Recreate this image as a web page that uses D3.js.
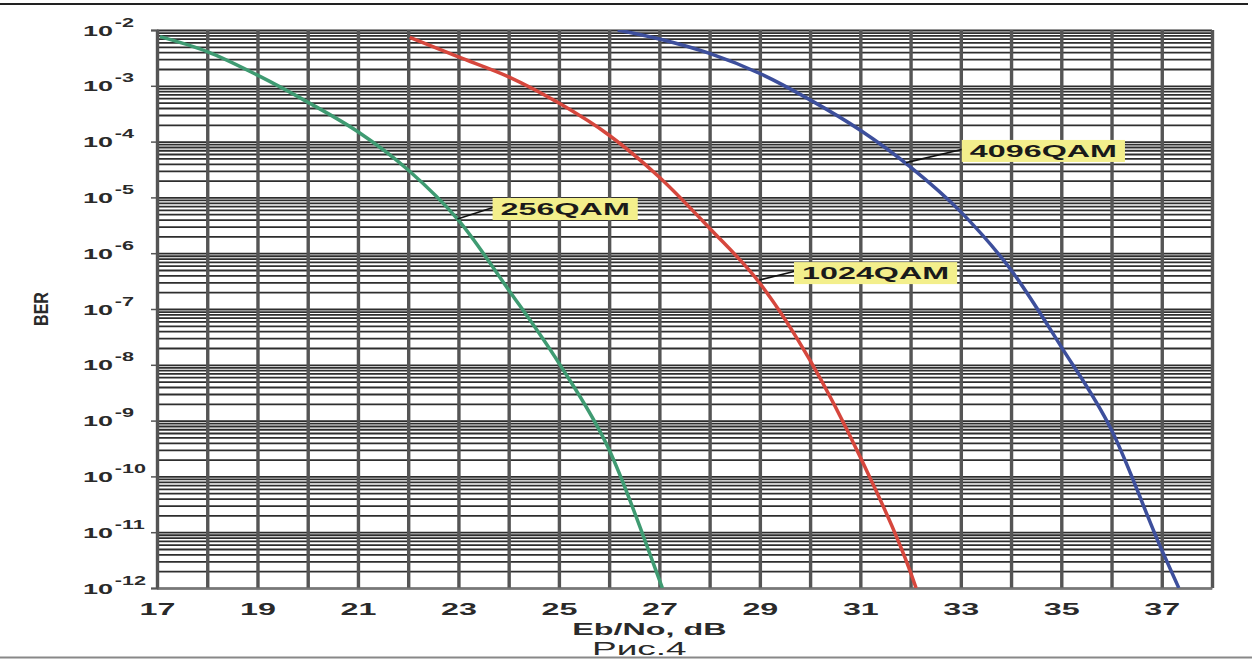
<!DOCTYPE html>
<html>
<head>
<meta charset="utf-8">
<script src="https://cdn.jsdelivr.net/npm/d3@7"></script>
<style>
  body { margin: 0; background: #fff; }
  svg { display: block; font-family: "Liberation Sans", Arial, sans-serif; }
</style>
</head>
<body>
<svg id="chart"></svg>
<script>
// Curves: Eb/No (dB) and BER
const ebno256 = [17.06, 18, 19, 20, 21, 22, 23, 24, 25, 26, 27, 27.06];
const ber256 = [7.6e-3, 4.1e-3, 1.55e-3, 5.1e-4, 1.5e-4, 3.1e-5, 3.9e-6, 2.2e-7, 1.07e-8, 3.0e-10, 1.4e-12, 1e-12];

const ebno1024 = [22.03, 23, 24, 25, 26, 27, 28, 29, 30, 31, 32, 32.11];
const ber1024 = [7.4e-3, 3.3e-3, 1.45e-3, 4.9e-4, 1.3e-4, 2.3e-5, 2.8e-6, 2.9e-7, 1.2e-8, 2.2e-10, 1.9e-12, 1e-12];

const ebno4096 = [26.17, 27, 28, 29, 30, 31, 32, 33, 34, 35, 36, 37, 37.34];
const ber4096 = [1e-2, 6.9e-3, 3.8e-3, 1.66e-3, 5.6e-4, 1.6e-4, 3.5e-5, 5.5e-6, 5e-7, 2.1e-8, 6.8e-10, 4.8e-12, 1e-12];

const seriesNames = ["256QAM", "1024QAM", "4096QAM"];
const seriesColors = ["#3f9b72", "#d6473d", "#3d4f9c"];

// Callout labels: where the pointer touches the curve and where the box starts
const tipEbno = [22.98, 28.99, 31.91];
const tipBer = [4.1e-6, 3.3e-7, 4.2e-5];
const boxEbno = [23.68, 29.68, 33.02];
const boxBer = [6.2e-6, 4.4e-7, 6.8e-5];

// Axis ticks
const xTickLabels = [17, 19, 21, 23, 25, 27, 29, 31, 33, 35, 37];
const yDecadeExps = [-2, -3, -4, -5, -6, -7, -8, -9, -10, -11, -12];

const xTitle = "Eb/No, dB";
const yTitle = "BER";
const caption = "Рис.4";

// Layout
const width = 1252, height = 659;
const margin = {top: 30, right: 40, bottom: 71, left: 157};
const chartWidth = width - margin.left - margin.right;
const chartHeight = height - margin.top - margin.bottom;
const stretch = 1.9; // the original picture is squeezed horizontally
const fontFamily = "Liberation Sans, Arial, sans-serif";

const svg = d3.select("#chart")
  .attr("width", width)
  .attr("height", height)
  .attr("font-family", fontFamily);

svg.append("rect").attr("width", width).attr("height", height).attr("fill", "#fff");

// frame lines of the scanned page
svg.append("line")
  .attr("x1", 0).attr("x2", 1248).attr("y1", 4).attr("y2", 4)
  .attr("stroke", "#222").attr("stroke-width", 2);
svg.append("line")
  .attr("x1", 0).attr("x2", width).attr("y1", 657.5).attr("y2", 657.5)
  .attr("stroke", "#888").attr("stroke-width", 2);

const xScale = d3.scaleLinear().domain([17, 38]).range([0, chartWidth]);
const yScale = d3.scaleLog().domain([1e-12, 1e-2]).range([chartHeight, 0]);

const g = svg.append("g").attr("transform", `translate(${margin.left},${margin.top})`);

// minor + major log gridlines
const hGridValues = [];
for (let e = -12; e < -2; e++) {
  for (let k = 1; k <= 9; k++) hGridValues.push(k * Math.pow(10, e));
}
hGridValues.push(1e-2);

const hGrid = g.append("g")
  .call(d3.axisLeft(yScale).tickValues(hGridValues).tickFormat("").tickSize(-chartWidth));
hGrid.select(".domain").remove();
hGrid.selectAll("line").attr("stroke", "#2e2e2e").attr("stroke-width", 1.8);

const vGrid = g.append("g")
  .attr("transform", `translate(0,${chartHeight})`)
  .call(d3.axisBottom(xScale).tickValues(d3.range(17, 39)).tickFormat("").tickSize(-chartHeight));
vGrid.select(".domain").remove();
vGrid.selectAll("line").attr("stroke", "#555").attr("stroke-width", 3.4);

// x axis labels
const xAxis = g.append("g")
  .attr("transform", `translate(0,${chartHeight})`)
  .call(d3.axisBottom(xScale).tickValues(xTickLabels).tickSize(0));
xAxis.select(".domain").attr("stroke", "#777").attr("stroke-width", 2);
xAxis.selectAll("text")
  .attr("y", 0).attr("dy", 0)
  .attr("transform", `translate(0,27) scale(${stretch},1)`)
  .attr("fill", "#2a2a2a")
  .style("font-size", "17px")
  .style("font-weight", "bold")
  .style("font-family", fontFamily);

// y axis with 10^n labels
const yAxis = g.append("g")
  .call(d3.axisLeft(yScale).tickValues(yDecadeExps.map(e => Math.pow(10, e))).tickSize(6).tickFormat(""));
yAxis.attr("font-size", null).attr("font-family", null).attr("text-anchor", "start");
yAxis.select(".domain").attr("stroke", "#555").attr("stroke-width", 2);
yAxis.selectAll("line").attr("stroke", "#555").attr("stroke-width", 1.5);
yAxis.selectAll(".tick text").remove();
yAxis.selectAll(".tick").each(function(d) {
  const exp = Math.round(Math.log10(d));
  const lg = d3.select(this).append("g")
    .attr("transform", "translate(-74,5) scale(1.8,1)");
  const base = lg.append("text")
    .attr("text-anchor", "start")
    .attr("font-size", 15).style("font-size", "15px")
    .attr("font-weight", "bold")
    .attr("fill", "#2a2a2a")
    .text("10");
  const bw = base.node().getComputedTextLength();
  lg.append("text")
    .attr("text-anchor", "start")
    .attr("x", bw + 1)
    .attr("y", -9)
    .attr("font-size", 12).style("font-size", "12px")
    .attr("font-weight", "bold")
    .attr("fill", "#2a2a2a")
    .text(String(exp));
});

// curves
const allEbno = [ebno256, ebno1024, ebno4096];
const allBer = [ber256, ber1024, ber4096];

const line = d3.line()
  .x(d => xScale(d[0]))
  .y(d => yScale(d[1]))
  .curve(d3.curveMonotoneX);

svg.append("defs").append("clipPath").attr("id", "plotClip")
  .append("rect").attr("width", chartWidth).attr("height", chartHeight);

const curveGroup = g.append("g").attr("clip-path", "url(#plotClip)");
seriesNames.forEach((name, i) => {
  const pts = allEbno[i].map((x, j) => [x, allBer[i][j]]);
  curveGroup.append("path")
    .datum(pts)
    .attr("d", line)
    .attr("fill", "none")
    .attr("stroke", seriesColors[i])
    .attr("stroke-width", 3.5)
    .attr("stroke-linejoin", "round");
});

// callouts
seriesNames.forEach((name, i) => {
  const bx = xScale(boxEbno[i]), by = yScale(boxBer[i]);
  g.append("line")
    .attr("x1", xScale(tipEbno[i])).attr("y1", yScale(tipBer[i]))
    .attr("x2", bx + 2).attr("y2", by - 2)
    .attr("stroke", "#111").attr("stroke-width", 1.6);

  const lab = g.append("g").attr("transform", `translate(${bx},${by})`);
  const box = lab.append("rect").attr("fill", "#f3ef8c");
  const txt = lab.append("text")
    .attr("transform", `translate(8,6) scale(${stretch},1)`)
    .style("font-size", "17px")
    .style("font-weight", "bold")
    .attr("fill", "#1a1a1a")
    .text(name);
  const w = txt.node().getComputedTextLength() * stretch;
  box.attr("x", 0).attr("y", -11).attr("width", w + 16).attr("height", 22);
});

// titles
svg.append("text")
  .attr("transform", `translate(${margin.left + xScale(26.8)},635) scale(${stretch},1)`)
  .attr("text-anchor", "middle")
  .style("font-size", "17px")
  .style("font-weight", "bold")
  .attr("fill", "#2a2a2a")
  .text(xTitle);

svg.append("text")
  .attr("transform", `translate(${margin.left + xScale(26.6)},655) scale(2.05,1)`)
  .attr("text-anchor", "middle")
  .style("font-size", "18px")
  .attr("fill", "#2a2a2a")
  .text(caption);

svg.append("text")
  .attr("transform", `translate(41,309) scale(1.25,1) rotate(-90)`)
  .attr("text-anchor", "middle")
  .attr("dy", "0.35em")
  .style("font-size", "16px")
  .style("font-weight", "bold")
  .attr("fill", "#2a2a2a")
  .text(yTitle);
</script>
</body>
</html>
